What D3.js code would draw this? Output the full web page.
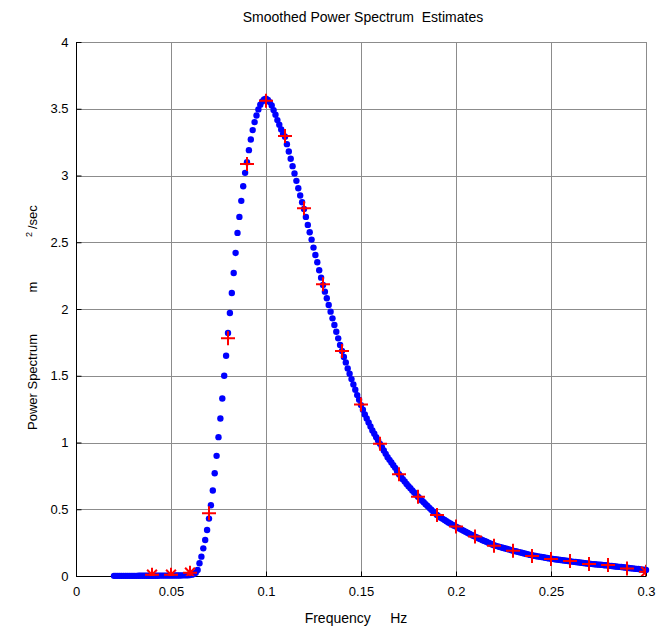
<!DOCTYPE html>
<html>
<head>
<meta charset="utf-8">
<script src="https://cdn.jsdelivr.net/npm/d3@7"></script>
<style>
  body { margin: 0; background: #fff; }
  text { font-family: Arial, "Liberation Sans", sans-serif; white-space: pre; }
</style>
</head>
<body>
<svg id="chart" width="656" height="628"></svg>
<script>
// blue dots: smoothed estimate, sampled every 0.001 Hz from 0.020 to 0.300
var blueStart = 0.02;
var blueStep = 0.001;
var blueVals = [
  0.001, 0.001, 0.001, 0.001, 0.001, 0.001, 0.001, 0.001, 0.001, 0.001,
  0.001, 0.001, 0.001, 0.002, 0.002, 0.002, 0.002, 0.002, 0.002, 0.002,
  0.002, 0.002, 0.002, 0.002, 0.003, 0.003, 0.003, 0.003, 0.003, 0.003,
  0.003, 0.003, 0.004, 0.004, 0.004, 0.004, 0.005, 0.005, 0.006, 0.006,
  0.007, 0.010, 0.015, 0.025, 0.045, 0.095, 0.145, 0.207, 0.270, 0.345,
  0.430, 0.530, 0.640, 0.770, 0.900, 1.040, 1.180, 1.330, 1.500, 1.650,
  1.820, 1.970, 2.120, 2.270, 2.420, 2.570, 2.690, 2.810, 2.920, 3.020,
  3.100, 3.190, 3.270, 3.340, 3.400, 3.450, 3.495, 3.530, 3.555, 3.570,
  3.575, 3.565, 3.550, 3.525, 3.490, 3.455, 3.415, 3.380, 3.345, 3.310,
  3.290, 3.235, 3.180, 3.125, 3.070, 3.015, 2.960, 2.905, 2.850, 2.800,
  2.750, 2.690, 2.630, 2.575, 2.520, 2.460, 2.405, 2.350, 2.290, 2.235,
  2.180, 2.130, 2.080, 2.030, 1.980, 1.930, 1.880, 1.830, 1.780, 1.730,
  1.685, 1.640, 1.600, 1.555, 1.515, 1.475, 1.435, 1.395, 1.355, 1.320,
  1.280, 1.245, 1.210, 1.180, 1.150, 1.120, 1.090, 1.065, 1.040, 1.015,
  0.990, 0.965, 0.940, 0.915, 0.890, 0.870, 0.850, 0.830, 0.810, 0.785,
  0.762, 0.745, 0.725, 0.708, 0.690, 0.673, 0.657, 0.641, 0.625, 0.610,
  0.594, 0.580, 0.566, 0.552, 0.538, 0.524, 0.510, 0.497, 0.483, 0.470,
  0.457, 0.447, 0.437, 0.428, 0.419, 0.410, 0.401, 0.393, 0.385, 0.377,
  0.370, 0.362, 0.354, 0.347, 0.339, 0.332, 0.324, 0.317, 0.310, 0.302,
  0.295, 0.288, 0.281, 0.275, 0.268, 0.262, 0.256, 0.249, 0.243, 0.236,
  0.230, 0.226, 0.222, 0.218, 0.214, 0.210, 0.206, 0.202, 0.198, 0.194,
  0.190, 0.186, 0.183, 0.179, 0.176, 0.172, 0.169, 0.165, 0.162, 0.158,
  0.155, 0.152, 0.150, 0.147, 0.145, 0.142, 0.140, 0.137, 0.135, 0.132,
  0.130, 0.128, 0.126, 0.124, 0.122, 0.120, 0.118, 0.116, 0.114, 0.112,
  0.110, 0.108, 0.106, 0.105, 0.103, 0.101, 0.099, 0.097, 0.096, 0.094,
  0.092, 0.091, 0.089, 0.088, 0.087, 0.085, 0.084, 0.083, 0.081, 0.080,
  0.078, 0.076, 0.075, 0.073, 0.071, 0.070, 0.068, 0.067, 0.065, 0.064,
  0.062, 0.060, 0.058, 0.057, 0.055, 0.053, 0.052, 0.050, 0.048, 0.047,
  0.045
];

// red markers: raw estimates every 0.01 Hz
var redFreq = [0.04, 0.05, 0.06, 0.07, 0.08, 0.09, 0.10, 0.11, 0.12, 0.13, 0.14,
               0.15, 0.16, 0.17, 0.18, 0.19, 0.20, 0.21, 0.22, 0.23, 0.24, 0.25,
               0.26, 0.27, 0.28, 0.29, 0.30];
var redVals = [0.010, 0.010, 0.025, 0.470, 1.780, 3.086, 3.560, 3.296, 2.754, 2.185, 1.685,
               1.285, 0.990, 0.762, 0.594, 0.457, 0.370, 0.295, 0.227, 0.190, 0.150, 0.127,
               0.112, 0.090, 0.082, 0.057, 0.032];

var xTicks = [0, 0.05, 0.1, 0.15, 0.2, 0.25, 0.3];
var yTicks = [0, 0.5, 1, 1.5, 2, 2.5, 3, 3.5, 4];

var svg = d3.select("#chart");
var pLeft = 76, pRight = 646, pTop = 42, pBottom = 576;

var x = d3.scaleLinear().domain([0, 0.3]).range([pLeft, pRight]);
var y = d3.scaleLinear().domain([0, 4]).range([pBottom, pTop]);

svg.append("rect").attr("width", 656).attr("height", 628).attr("fill", "#fff");

// grid
var grid = svg.append("g").attr("stroke", "#8c8c8c").attr("stroke-width", 1);
grid.selectAll(".gx").data(xTicks).enter().append("line")
    .attr("x1", function(d) { return Math.round(x(d)) + 0.5; })
    .attr("x2", function(d) { return Math.round(x(d)) + 0.5; })
    .attr("y1", pTop).attr("y2", pBottom);
grid.selectAll(".gy").data(yTicks).enter().append("line")
    .attr("y1", function(d) { return Math.round(y(d)) + 0.5; })
    .attr("y2", function(d) { return Math.round(y(d)) + 0.5; })
    .attr("x1", pLeft).attr("x2", pRight);

// axes (ticks inward)
var xAxis = d3.axisBottom(x).tickValues(xTicks).tickSize(-5).tickPadding(10)
    .tickFormat(function(d) { return String(+d.toFixed(2)); });
var yAxis = d3.axisLeft(y).tickValues(yTicks).tickSize(-5).tickPadding(8)
    .tickFormat(function(d) { return String(d); });

var gx = svg.append("g").attr("transform", "translate(0," + (pBottom + 0.5) + ")").call(xAxis);
var gy = svg.append("g").attr("transform", "translate(" + (pLeft + 0.5) + ",0)").call(yAxis);
[gx, gy].forEach(function(g) {
  g.select(".domain").attr("stroke", "#000");
  g.selectAll(".tick line").attr("stroke", "#000");
  g.selectAll("text").attr("font-size", 13).attr("fill", "#000")
    .attr("font-family", "Arial, 'Liberation Sans', sans-serif");
});
gx.select(".domain").attr("d", "M" + pLeft + ",0H" + pRight);
gy.select(".domain").attr("d", "M0," + pBottom + "V" + pTop);

// blue dots
svg.append("g").selectAll("circle").data(blueVals).enter().append("circle")
    .attr("cx", function(d, i) { return x(blueStart + i * blueStep); })
    .attr("cy", function(d) { return y(d); })
    .attr("r", 3.2)
    .attr("fill", "#0000ff");

// red markers
svg.append("clipPath").attr("id", "clip").append("rect")
    .attr("x", pLeft).attr("y", pTop).attr("width", pRight - pLeft).attr("height", pBottom - pTop);
var red = svg.append("g").attr("clip-path", "url(#clip)")
    .attr("stroke", "#ff0000").attr("stroke-width", 2).attr("fill", "none");
var m = 7;
red.selectAll("path").data(redVals).enter().append("path")
    .attr("d", function(d, i) {
      var cx = x(redFreq[i]), cy = y(d);
      var p = "M" + (cx - m) + "," + cy + "H" + (cx + m) + "M" + cx + "," + (cy - m) + "V" + (cy + m);
      if (d < 0.05) {
        var k = m * 0.7;
        p += "M" + (cx - k) + "," + (cy - k) + "L" + (cx + k) + "," + (cy + k)
           + "M" + (cx - k) + "," + (cy + k) + "L" + (cx + k) + "," + (cy - k);
      }
      return p;
    });

// title and labels
svg.append("text").attr("x", 363).attr("y", 22).attr("text-anchor", "middle")
    .attr("font-size", 14).text("Smoothed Power Spectrum  Estimates");
svg.append("text").attr("x", 356).attr("y", 623).attr("text-anchor", "middle")
    .attr("font-size", 14).text("Frequency     Hz");

var yl = svg.append("g").attr("transform", "translate(37,0) rotate(-90)");
yl.append("text").attr("x", -430).attr("y", 0).attr("font-size", 13)
    .text("Power Spectrum");
yl.append("text").attr("x", -287).attr("y", 0).attr("font-size", 13)
    .attr("text-anchor", "middle").text("m");
yl.append("text").attr("x", -237).attr("y", -5).attr("font-size", 9).text("2");
yl.append("text").attr("x", -229).attr("y", 0).attr("font-size", 13).text("/sec");
</script>
</body>
</html>
